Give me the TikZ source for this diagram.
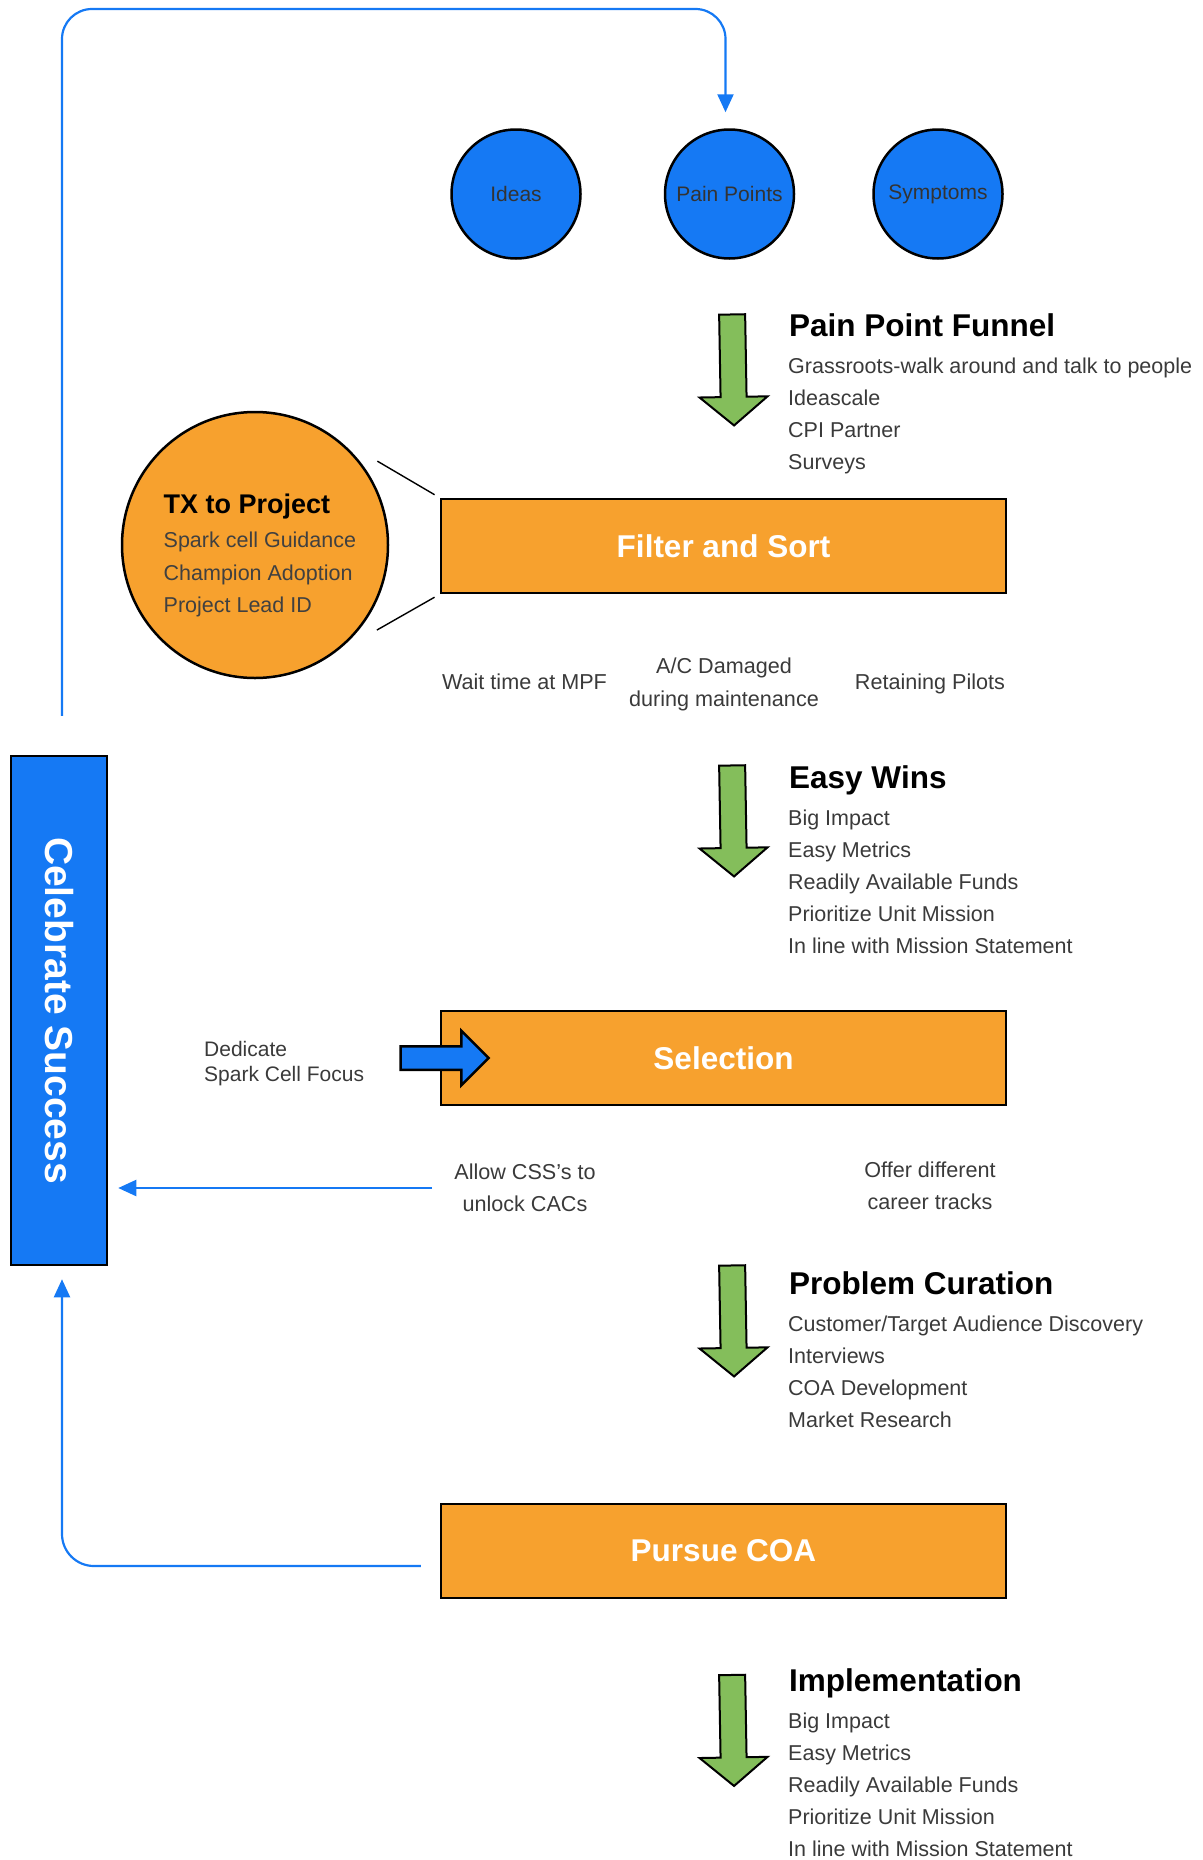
\documentclass[tikz,border=0pt]{standalone}
\usepackage{fontspec}
\setmainfont{Liberation Sans}
\usepackage{xcolor}
\usetikzlibrary{shapes.geometric, shapes.arrows, arrows.meta, positioning}

\definecolor{coaorange}{HTML}{F7A12E}
\definecolor{sparkblue}{HTML}{1579F4}
\definecolor{funnelgreen}{HTML}{84BE5B}
\definecolor{notegray}{HTML}{3A3A3A}

\begin{document}
\begin{tikzpicture}[x=1pt, y=-1pt]
\tikzstyle{source} = [circle, minimum size=129pt, inner sep=0pt, draw=black, line width=2.5pt, fill=sparkblue, text=black!80, font=\fontsize{21}{24}\selectfont]
\tikzstyle{stage} = [rectangle, minimum width=565pt, minimum height=94pt, draw=black, line width=2.5pt, fill=coaorange, text=white, font=\fontsize{31.5}{36}\selectfont\bfseries]
\tikzstyle{funnel} = [single arrow, rotate=-89, minimum height=111pt, inner xsep=0pt, inner ysep=12pt, single arrow head extend=21pt, single arrow tip angle=100, draw=black, line width=2pt, fill=funnelgreen]
\tikzstyle{heading} = [anchor=base west, inner sep=0pt, font=\fontsize{31.5}{36}\selectfont\bfseries]
\tikzstyle{listitem} = [anchor=base west, inner sep=0pt, text=notegray, font=\fontsize{21.5}{24}\selectfont]
\tikzstyle{note} = [align=center, inner sep=0pt, text=notegray, font=\fontsize{21.6}{32.3}\selectfont]
\tikzstyle{link} = [draw=sparkblue, line width=2.2pt, -{Triangle[width=16pt, length=18pt]}]
\tikzstyle{callout} = [draw=black, line width=1.4pt]

\useasboundingbox (0,0) rectangle (1202,1860);

% where the pain points come from
\node (ideas) [source] at (516,194) {Ideas};
\node (pain) [source, right=82pt of ideas] {Pain Points};
\node (symptoms) [source, right=77pt of pain] {Symptoms};

% main stages
\node (filter) [stage] at (723.5,546) {Filter and Sort};
\node (selection) [stage] at (723.5,1058) {Selection};
\node (pursue) [stage] at (723.5,1551) {Pursue COA};

% TX to Project bubble
\node (tx) [circle, minimum size=266pt, draw=black, line width=2.5pt, fill=coaorange] at (255,545) {};
\node (txtitle) [heading, font=\fontsize{27}{30}\selectfont\bfseries] at (163.5,513) {TX to Project};
\foreach \t [count=\i from 0] in {Spark cell Guidance, Champion Adoption, Project Lead ID}
  \node [listitem, text=black!75, font=\fontsize{21.5}{24}\selectfont] at (163.5,{547.7+32.5*\i}) {\t};
\draw [callout, shorten <=6pt, shorten >=64pt] (filter.north west) -- (tx.60);
\draw [callout, shorten <=6pt, shorten >=63pt] (filter.south west) -- (tx.-60);

% funnel arrows with their lists
\node (funnelA) [funnel] at (733,364.5) {};
\node (ppfTitle) [heading] at (789,336.3) {Pain Point Funnel};
\foreach \t [count=\i from 0] in {Grassroots-walk around and talk to people, Ideascale, CPI Partner, Surveys}
  \node [listitem] at (788,{373.35+32.1*\i}) {\t};

\node (funnelB) [funnel] at (733,815.5) {};
\node (winsTitle) [heading] at (789,788.5) {Easy Wins};
\foreach \t [count=\i from 0] in {Big Impact, Easy Metrics, Readily Available Funds, Prioritize Unit Mission, In line with Mission Statement}
  \node [listitem] at (788,{825.55+32.1*\i}) {\t};

\node (funnelC) [funnel] at (733,1315.5) {};
\node (curationTitle) [heading] at (789,1294) {Problem Curation};
\foreach \t [count=\i from 0] in {Customer/Target Audience Discovery, Interviews, COA Development, Market Research}
  \node [listitem] at (788,{1331.05+32.1*\i}) {\t};

\node (funnelD) [funnel] at (733,1725) {};
\node (implTitle) [heading] at (789,1691.5) {Implementation};
\foreach \t [count=\i from 0] in {Big Impact, Easy Metrics, Readily Available Funds, Prioritize Unit Mission, In line with Mission Statement}
  \node [listitem] at (788,{1728.55+32.1*\i}) {\t};

% notes between the stages
\node (mpf) [note] at (524.5,681.7) {Wait time at MPF};
\node (damage) [note] at (724,684.4) {A/C Damaged\\during maintenance};
\node (pilots) [note] at (930,683.9) {Retaining Pilots};
\node (allow) [note] at (525,1188) {Allow CSS's to\\unlock CACs};
\node (tracks) [note] at (930,1186) {Offer different\\career tracks};
\node (dedicate) [note, align=left, anchor=west, font=\fontsize{21}{25.3}\selectfont] at (204,1063.9) {Dedicate\\Spark Cell Focus};
\node (dedarrow) [single arrow, minimum height=88pt, inner xsep=0pt, inner ysep=10.5pt, single arrow head extend=15.5pt, draw=black, line width=2.5pt, fill=sparkblue] at ([xshift=-1pt]selection.west) {};

% celebrate bar
\node (celebrate) [rectangle, minimum width=96pt, minimum height=509pt, draw=black, line width=2.5pt, fill=sparkblue] at (59,1010.5) {};
\node [rotate=-90, text=white, font=\fontsize{39}{44}\selectfont\bfseries] at (celebrate.center) {Celebrate Success};

% feedback loops
\coordinate (loopstart) at ([xshift=3pt, yshift=39pt]celebrate.north);
\draw [link, rounded corners=30pt, shorten >=16pt] (loopstart) |- ([xshift=-4pt]pain.north |- 0,9) -- ([xshift=-4pt]pain.north);
\coordinate (coastart) at ([xshift=-19pt, yshift=-15pt]pursue.west);
\draw [link, rounded corners=32pt, shorten >=13pt] (coastart) -| ([xshift=3pt]celebrate.south);
\draw [link, shorten >=10pt] ([xshift=-22pt]allow.west) -- (allow.west -| celebrate.east);
\end{tikzpicture}
\end{document}
